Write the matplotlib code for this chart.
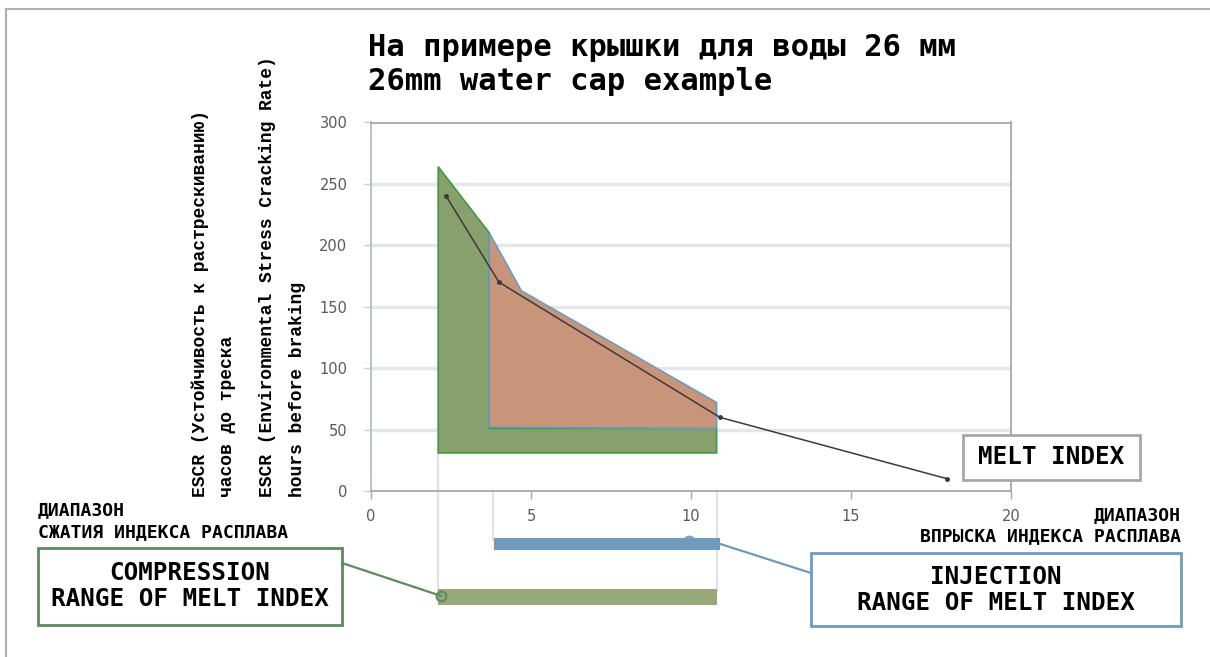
import matplotlib
matplotlib.use('Agg')
from matplotlib import pyplot as plt
from matplotlib.patches import Polygon, Rectangle, ConnectionPatch
from matplotlib.lines import Line2D

# melt index curve
mi_x = [2.35, 4.0, 10.9, 18.0]
mi_y = [240, 170, 60, 10]

# compression area (green) and injection area (orange)
comp_x = [2.1, 3.7, 3.7, 10.8, 10.8, 2.1]
comp_y = [264, 210, 51, 51, 31, 31]
inj_x = [3.7, 4.7, 10.8, 10.8, 3.7]
inj_y = [210, 163, 72, 51, 52]

# melt index ranges shown as bars under the axis
comp_range = [2.1, 10.8]
inj_range = [3.85, 10.9]
comp_mark = 2.2
inj_mark = 9.95
guide_x = [2.1, 3.8, 10.8]

xticks = [0, 5, 10, 15, 20]
yticks = [0, 50, 100, 150, 200, 250, 300]

title_ru = 'На примере крышки для воды 26 мм'
title_en = '26mm water cap example'
ylab_lines = ['ESCR (Устойчивость к растрескиванию)', 'часов до треска',
              'ESCR (Environmental Stress Cracking Rate)', 'hours before braking']

GREEN = '#88a06d'
GREEN_EDGE = '#3c9a3c'
ORANGE = '#c9957a'
BLUE = '#6e9bbd'
MONO = 'DejaVu Sans Mono'

fig = plt.figure(figsize=(12.1, 6.57), dpi=100)
ax = fig.add_axes([371/1210, 1-491/657, 640/1210, 368.5/657])

ax.set_xlim(0, 20)
ax.set_ylim(0, 300)
ax.set_xticks(xticks)
ax.set_yticks(yticks)
for v in yticks[1:-1]:
    ax.axhline(v, color='#e6e6e6', lw=2.4, zorder=0)
for s in ax.spines.values():
    s.set_color('#a8a8a8')
    s.set_linewidth(1.3)
ax.spines['left'].set_color('#b4bcc4')
ax.tick_params(axis='x', colors='#a8a8a8', length=6, width=1, pad=7,
               labelcolor='#595959', labelsize=10.5)
ax.tick_params(axis='y', colors='#c8ccd0', length=5, width=1, pad=12,
               labelcolor='#595959', labelsize=10.5)

# guide lines going down to the range bars
ax.plot([guide_x[0]]*2, [29, -82], color='#e2e2e2', lw=1.6, clip_on=False, zorder=1)
ax.plot([guide_x[1]]*2, [0, -40], color='#e2e2e2', lw=1.6, clip_on=False, zorder=1)
ax.plot([guide_x[2]]*2, [0, -82], color='#e2e2e2', lw=1.6, clip_on=False, zorder=1)

ax.add_patch(Polygon(list(zip(comp_x, comp_y)), closed=True, facecolor=GREEN,
                     edgecolor=GREEN_EDGE, lw=1.2, zorder=2))
ax.add_patch(Polygon(list(zip(inj_x, inj_y)), closed=True, facecolor=ORANGE,
                     edgecolor=BLUE, lw=1.2, zorder=3))
ax.plot(mi_x, mi_y, color='#3a3a3a', lw=1.1, marker='o', ms=2.5, zorder=4)

# range bars below the axis
ax.add_patch(Rectangle((inj_range[0], -48), inj_range[1]-inj_range[0], 10,
                       facecolor=BLUE, edgecolor='none', clip_on=False))
ax.add_patch(Rectangle((comp_range[0], -93), comp_range[1]-comp_range[0], 13,
                       facecolor='#97a97a', edgecolor='none', clip_on=False))
ax.plot(inj_mark, -40.5, 'o', ms=7, mfc='none', mec=BLUE, mew=1.5, clip_on=False)
ax.plot(comp_mark, -85.5, 'o', ms=7, mfc='none', mec='#5d8a5f', mew=1.5, clip_on=False)

# frame lines of the picture
fig.add_artist(Line2D([6/1210, 1], [1-9/657, 1-9/657], color='#b0b0b0', lw=1.5))
fig.add_artist(Line2D([6/1210, 6/1210], [0, 1-9/657], color='#b0b0b0', lw=1.5))

fig.text(368/1210, 1-47/657, title_ru, fontfamily=MONO, fontweight='bold',
         fontsize=22, va='center', ha='left')
fig.text(368/1210, 1-82/657, title_en, fontfamily=MONO, fontweight='bold',
         fontsize=22, va='center', ha='left')

for xp, t in zip([200, 228, 268, 298], ylab_lines):
    fig.text(xp/1210, 1-497/657, t, rotation=90, ha='center', va='bottom',
             fontfamily='Liberation Mono', fontweight='bold', fontsize=13)

fig.text(38/1210, 1-510/657, 'ДИАПАЗОН', fontfamily=MONO, fontweight='bold',
         fontsize=13, va='center', ha='left')
fig.text(38/1210, 1-532/657, 'СЖАТИЯ ИНДЕКСА РАСПЛАВА', fontfamily=MONO,
         fontweight='bold', fontsize=13, va='center', ha='left')
fig.text(1181/1210, 1-515/657, 'ДИАПАЗОН', fontfamily=MONO, fontweight='bold',
         fontsize=13, va='center', ha='right')
fig.text(1181/1210, 1-536/657, 'ВПРЫСКА ИНДЕКСА РАСПЛАВА', fontfamily=MONO,
         fontweight='bold', fontsize=13, va='center', ha='right')


def box(x0, y0, x1, y1, color, lines):
    fig.add_artist(Rectangle((x0/1210, 1-y1/657), (x1-x0)/1210, (y1-y0)/657,
                             transform=fig.transFigure, facecolor='white',
                             edgecolor=color, lw=2))
    cx = (x0+x1)/2/1210
    n = len(lines)
    cy = (y0+y1)/2
    for i, t in enumerate(lines):
        yy = cy + (i-(n-1)/2)*26
        fig.text(cx, 1-yy/657, t, fontfamily=MONO, fontweight='bold',
                 fontsize=17.5, ha='center', va='center')


box(963, 435, 1140, 480, '#a8a8a8', ['MELT INDEX'])
box(38, 548, 342, 625, '#5d8a5f', ['COMPRESSION', 'RANGE OF MELT INDEX'])
box(811, 553, 1181, 626, BLUE, ['INJECTION', 'RANGE OF MELT INDEX'])

# connectors from the boxes to the bars
fig.add_artist(ConnectionPatch((comp_mark, -85.5), (342/1210, 1-563/657),
                               coordsA=ax.transData, coordsB=fig.transFigure,
                               color='#5d8a5f', lw=1.6))
fig.add_artist(ConnectionPatch((inj_range[1], -43), (811/1210, 1-573/657),
                               coordsA=ax.transData, coordsB=fig.transFigure,
                               color=BLUE, lw=1.6))

fig.savefig('out.png', dpi=100)
